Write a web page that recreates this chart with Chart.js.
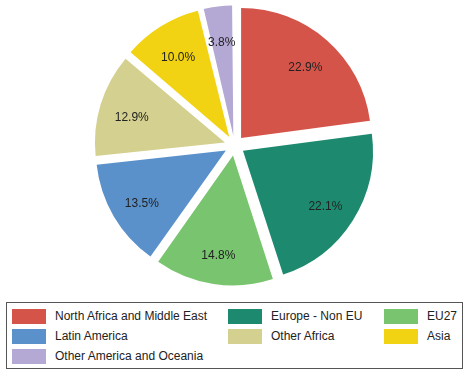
<!DOCTYPE html>
<html>
<head>
<meta charset="utf-8">
<script src="https://cdn.jsdelivr.net/npm/chart.js@4"></script>
<style>
  body { margin: 0; background: #fff; font-family: "Liberation Sans", Arial, sans-serif; }
  #wrap { position: relative; width: 467px; height: 373px; }
  #pieBox { position: absolute; left: 0; top: 0; width: 467px; height: 291px; }
  #legend {
    position: absolute; left: 6px; top: 302px; width: 455px; height: 65px;
    border: 1px solid #555; box-sizing: content-box;
  }
  .item { position: absolute; height: 20px; font-size: 12px; color: #222; line-height: 15px; }
  .item .sw { position: absolute; left: 0; top: 0; width: 34px; height: 15px; }
  .item .tx { position: absolute; left: 43px; top: 0; white-space: nowrap; }
</style>
</head>
<body>
<div id="wrap">
  <div id="pieBox"><canvas id="pieChart"></canvas></div>
  <div id="legend"></div>
</div>
<script>
const regions = ['North Africa and Middle East', 'Europe - Non EU', 'EU27', 'Latin America', 'Other Africa', 'Asia', 'Other America and Oceania'];
const shares = [22.9, 22.1, 14.8, 13.5, 12.9, 10.0, 3.8];
const colors = ['#D4544A', '#1D8A6F', '#79C46F', '#5A91CB', '#D4D08F', '#F1D314', '#B4A8D4'];

const PULL = 40; // chart.js desplaza offset/4 px

// todas las porciones con el mismo radio (chart.js agranda las pequenas)
const evenRadius = {
    id: 'evenRadius',
    beforeDatasetsDraw(chart) {
        const meta = chart.getDatasetMeta(0);
        const R = meta.controller.outerRadius;
        meta.data.forEach(arc => {
            const circ = arc.endAngle - arc.startAngle;
            const fix = 1 - Math.sin(Math.min(Math.PI, circ));
            arc.outerRadius = R - (PULL / 4) * fix;
        });
    }
};

// etiquetas de porcentaje dentro de cada porcion
const pctLabels = {
    id: 'pctLabels',
    afterDatasetsDraw(chart) {
        const c = chart.ctx;
        const meta = chart.getDatasetMeta(0);
        const R = meta.controller.outerRadius;
        c.save();
        c.font = '12px "Liberation Sans", Arial, sans-serif';
        c.fillStyle = '#222';
        c.textAlign = 'center';
        c.textBaseline = 'middle';
        meta.data.forEach((arc, i) => {
            const mid = (arc.startAngle + arc.endAngle) / 2;
            const r = R * 0.75 + PULL / 4;
            c.fillText(shares[i].toFixed(1) + '%', arc.x + Math.cos(mid) * r, arc.y + Math.sin(mid) * r + 3.5);
        });
        c.restore();
    }
};

const ctx = document.getElementById('pieChart').getContext('2d');
const myChart = new Chart(ctx, {
    type: 'pie',
    data: {
        labels: regions,
        datasets: [{
            data: shares,
            backgroundColor: colors,
            borderWidth: 0,
            offset: PULL,
            radius: 130
        }]
    },
    options: {
        responsive: true,
        maintainAspectRatio: false,
        animation: false,
        layout: { padding: { left: 2 } },
        plugins: {
            legend: { display: false },
            tooltip: { enabled: false }
        }
    },
    plugins: [evenRadius, pctLabels]
});

// leyenda en tres columnas
const colX = [5, 221, 377];
const rowY = [6, 26, 46];
const legend = document.getElementById('legend');
regions.forEach((name, i) => {
    const el = document.createElement('div');
    el.className = 'item';
    el.style.left = colX[i % 3] + 'px';
    el.style.top = rowY[Math.floor(i / 3)] + 'px';
    el.innerHTML = '<span class="sw" style="background:' + colors[i] + '"></span><span class="tx">' + name + '</span>';
    legend.appendChild(el);
});
</script>
</body>
</html>
